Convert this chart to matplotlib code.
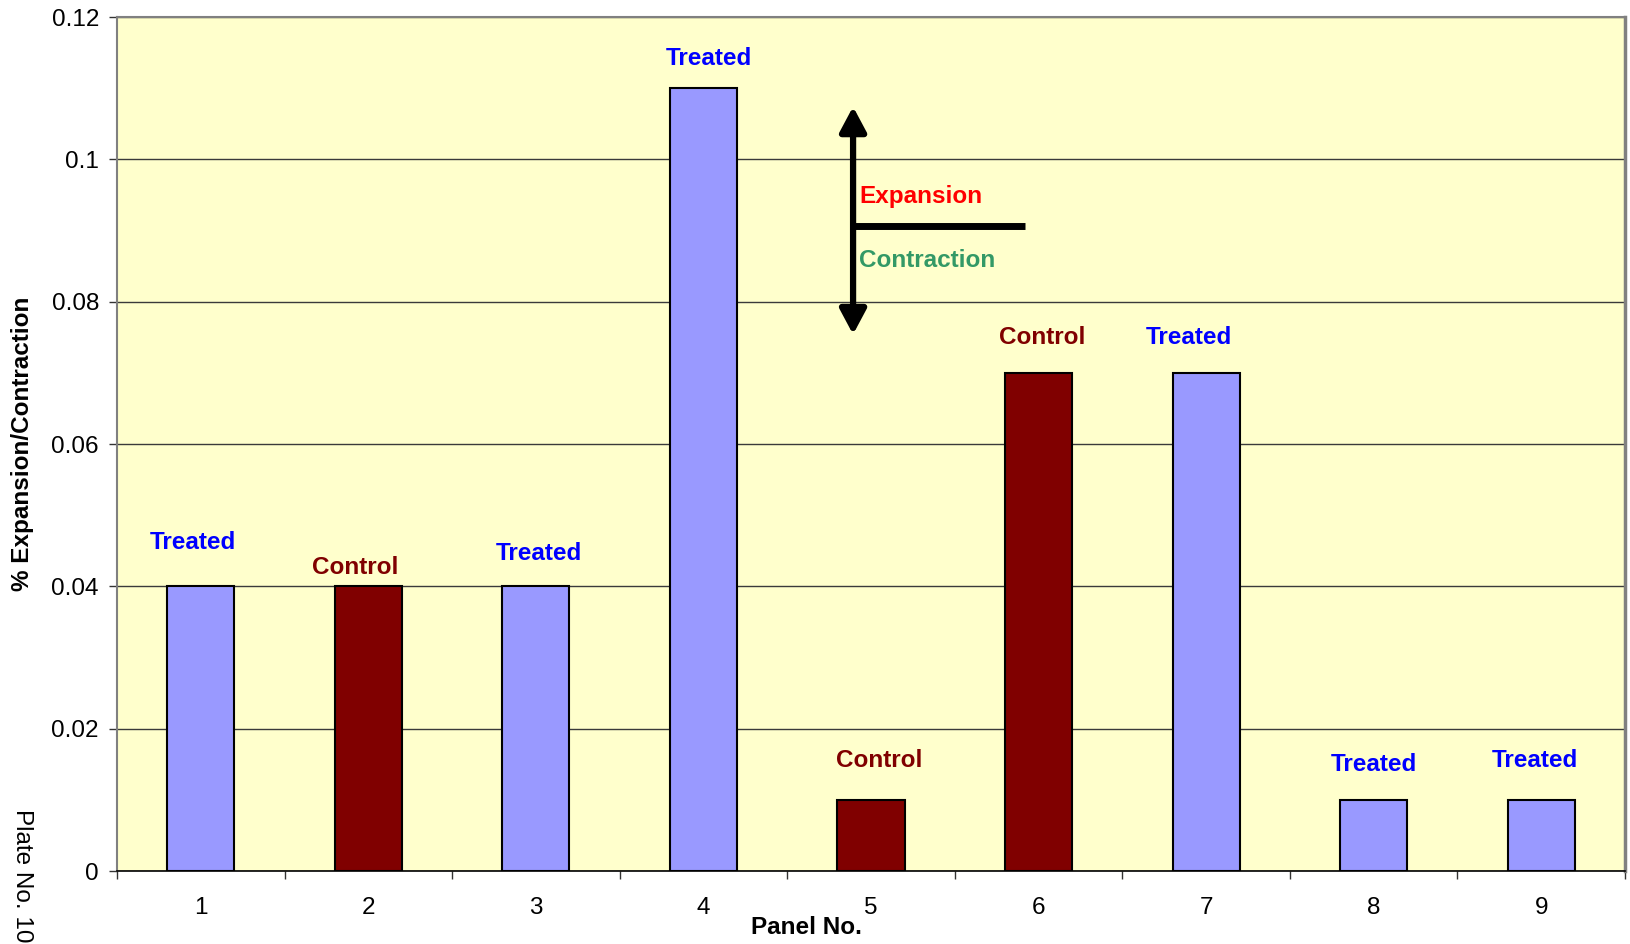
import matplotlib
matplotlib.use("Agg")
import matplotlib.pyplot as plt
import numpy as np

# Panel data
panels = ["1", "2", "3", "4", "5", "6", "7", "8", "9"]
expansion = [0.04, 0.04, 0.04, 0.11, 0.01, 0.07, 0.07, 0.01, 0.01]
groups = ["Treated", "Control", "Treated", "Treated", "Control",
          "Control", "Treated", "Treated", "Treated"]
yticks = [0, 0.02, 0.04, 0.06, 0.08, 0.1, 0.12]
ytick_labels = ["0", "0.02", "0.04", "0.06", "0.08", "0.1", "0.12"]

# Hand placement of the group captions (x offset, y centre in data units)
label_dx = [-0.05, -0.08, 0.02, 0.03, 0.05, 0.02, -0.1, 0.0, -0.04]
label_y = [0.0461, 0.0426, 0.0446, 0.1142, 0.0155, 0.0750, 0.0750, 0.0149, 0.0155]

fill = {"Treated": "#9999FF", "Control": "#800000"}
text_col = {"Treated": "#0000FF", "Control": "#800000"}

FS = 17.5
plt.rcParams["font.family"] = ["Liberation Sans", "DejaVu Sans"]

fig = plt.figure(figsize=(16.31, 9.44), dpi=100)
ax = fig.add_axes([117 / 1631, 1 - 871 / 944, (1625 - 117) / 1631, (871 - 17) / 944])
ax.set_facecolor("#FFFFCC")

x = np.arange(1, len(panels) + 1)
ax.bar(x, expansion, width=0.4, color=[fill[g] for g in groups],
       edgecolor="black", linewidth=1.5, zorder=3)

for xi, g, dx, ly in zip(x, groups, label_dx, label_y):
    ax.text(xi + dx, ly, g, color=text_col[g], fontsize=FS, fontweight="bold",
            ha="center", va="center", zorder=4)

ax.set_xlim(0.5, len(panels) + 0.5)
ax.set_ylim(0, 0.12)
ax.set_yticks(yticks)
ax.set_yticklabels(ytick_labels, fontsize=FS)
ax.yaxis.grid(True, color="#3a3a3a", linewidth=1.0, zorder=1)

# category boundaries carry the tick marks, centres carry the labels
ax.set_xticks(np.arange(0.5, len(panels) + 1, 1.0))
ax.set_xticklabels([])
ax.set_xticks(x, minor=True)
ax.set_xticklabels(panels, minor=True, fontsize=FS)
ax.tick_params(axis="x", which="major", length=6, width=1.0, color="#333333", direction="out")
ax.tick_params(axis="x", which="minor", length=0, pad=19)
ax.tick_params(axis="y", length=6, width=1.0, color="#333333", pad=7)

for side in ["left", "top"]:
    ax.spines[side].set_color("#808080")
    ax.spines[side].set_linewidth(1.5)
ax.spines["right"].set_color("#808080")
ax.spines["right"].set_linewidth(2.5)
ax.spines["bottom"].set_color("black")
ax.spines["bottom"].set_linewidth(1.2)

# expansion / contraction key
ax.annotate("", xy=(4.893, 0.1074), xytext=(4.893, 0.0754),
            arrowprops=dict(arrowstyle="<|-|>,head_length=1.5,head_width=0.8",
                            color="black", lw=4.5, shrinkA=0, shrinkB=0), zorder=5)
ax.plot([4.893, 5.917], [0.0906, 0.0906], color="black", lw=5, zorder=5,
        solid_capstyle="butt")
ax.text(4.93, 0.0948, "Expansion", color="#FF0000", fontsize=FS,
        fontweight="bold", ha="left", va="center", zorder=5)
ax.text(4.93, 0.0858, "Contraction", color="#339966", fontsize=FS,
        fontweight="bold", ha="left", va="center", zorder=5)

fig.text(806 / 1631, 1 - 928 / 944, "Panel No.", fontsize=FS, fontweight="bold",
         ha="center", va="center")
fig.text(23 / 1631, 1 - 444 / 944, "% Expansion/Contraction", fontsize=FS,
         fontweight="bold", rotation=90, ha="center", va="center")
fig.text(22 / 1631, 1 - 809 / 944, "Plate No. 10", fontsize=FS, rotation=270,
         ha="center", va="top")

fig.savefig("out.png", dpi=100, facecolor="white")
